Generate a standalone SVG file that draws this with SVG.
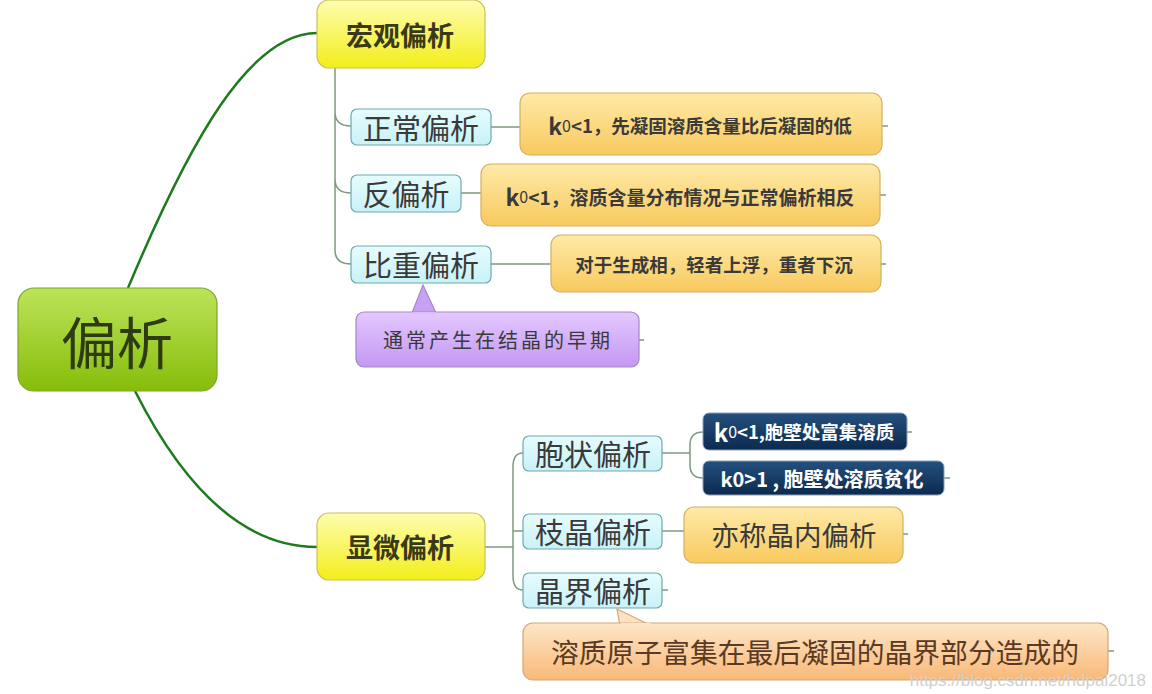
<svg xmlns="http://www.w3.org/2000/svg" width="1152" height="694" viewBox="0 0 1152 694">
<defs>
<linearGradient id="gGreen" x1="0" y1="0" x2="0" y2="1"><stop offset="0" stop-color="#bde45a"/><stop offset="1" stop-color="#86bd0a"/></linearGradient>
<linearGradient id="gYellow" x1="0" y1="0" x2="0" y2="1"><stop offset="0" stop-color="#fffdb0"/><stop offset="1" stop-color="#f2ee1a"/></linearGradient>
<linearGradient id="gCyan" x1="0" y1="0" x2="0" y2="1"><stop offset="0" stop-color="#e6fcfe"/><stop offset="1" stop-color="#c8f2f8"/></linearGradient>
<linearGradient id="gOrange" x1="0" y1="0" x2="0" y2="1"><stop offset="0" stop-color="#feeaa8"/><stop offset="1" stop-color="#f8c95e"/></linearGradient>
<linearGradient id="gBlue" x1="0" y1="0" x2="0" y2="1"><stop offset="0" stop-color="#24507e"/><stop offset="1" stop-color="#0c2a4e"/></linearGradient>
<linearGradient id="gPeach" x1="0" y1="0" x2="0" y2="1"><stop offset="0" stop-color="#fee6c8"/><stop offset="1" stop-color="#f9b878"/></linearGradient>
<linearGradient id="gPurple" x1="0" y1="0" x2="0" y2="1"><stop offset="0" stop-color="#e4c8ff"/><stop offset="1" stop-color="#c398f2"/></linearGradient>
</defs>
<style>
.main{stroke:#1d7a1d;stroke-width:2.5;fill:none}
.br{stroke:#7f9a80;stroke-width:1.5;fill:none}
.t{font-family:"Noto Sans CJK SC","Noto Sans",sans-serif;text-anchor:middle;dominant-baseline:central}
.cy{fill:url(#gCyan);stroke:#6fa9ad;stroke-width:1.2}
.or{fill:url(#gOrange);stroke:#d4b062;stroke-width:1.2}
.ye{fill:url(#gYellow);stroke:#c9c25a;stroke-width:1.2}
.bl{fill:url(#gBlue);stroke:#8aa0b8;stroke-width:1}
.cyt{font-size:29px;fill:#3a3a3a}
.ort{font-size:18.5px;font-weight:bold;fill:#3a3a3a}
</style>
<rect width="1152" height="694" fill="#ffffff"/>
<g id="connectors">
<path class="main" d="M128,288 C190,140 250,33 317,33"/>
<path class="main" d="M135,391 C185,490 245,547 317,547"/>
<path class="br" d="M335,68 V250 Q335,264 351,264 M335,112 Q335,126 351,126 M335,179 Q335,193 351,193"/>
<path class="br" d="M491,127 H520 M461,193 H481 M491,264 H551"/>
<path class="br" d="M485,547 H513 M513,467 Q513,453 523,453 M513,531 H523 M513,576 Q513,590 523,590 M513,467 V576"/>
<path class="br" d="M662,453 H690 M703,432 Q690,432 690,445 V465 Q690,478 703,478"/>
<path class="br" d="M662,531 H684"/>
<path class="br" d="M639,340 H644 M882,126 H888 M880,195 H886 M881,264 H886 M907,432 H912 M944,478 H950 M903,534 H908 M1108,651 H1114 M662,590 H668"/>
</g>
<g id="root">
<rect x="18" y="288" width="199" height="103" rx="16" fill="url(#gGreen)" stroke="#7ea52a" stroke-width="1.2"/>
<text class="t" x="117" y="339" font-size="56" fill="#2e3a12">偏析</text>
</g>
<g id="macro">
<rect class="ye" x="317" y="0" width="168" height="68" rx="12"/>
<text class="t" x="400" y="34" font-size="27" font-weight="bold" fill="#3a3a1a">宏观偏析</text>
</g>
<g id="normal">
<rect class="cy" x="351" y="109" width="140" height="36" rx="6"/>
<text class="t cyt" x="421" y="127">正常偏析</text>
</g>
<g id="inverse">
<rect class="cy" x="351" y="175" width="110" height="37" rx="6"/>
<text class="t cyt" x="406" y="193">反偏析</text>
</g>
<g id="gravity">
<rect class="cy" x="351" y="246" width="140" height="37" rx="6"/>
<text class="t cyt" x="421" y="264">比重偏析</text>
</g>
<g id="normal-desc">
<rect class="or" x="520" y="93" width="362" height="62" rx="10"/>
<text class="t ort" x="700" y="125"><tspan font-size="23">k</tspan><tspan font-size="16" font-weight="normal">0</tspan><tspan font-size="18.5">&lt;1，先凝固溶质含量比后凝固的低</tspan></text>
</g>
<g id="inverse-desc">
<rect class="or" x="481" y="164" width="399" height="62" rx="10"/>
<text class="t ort" x="680" y="196"><tspan font-size="23">k</tspan><tspan font-size="16" font-weight="normal">0</tspan><tspan font-size="19">&lt;1，溶质含量分布情况与正常偏析相反</tspan></text>
</g>
<g id="gravity-desc">
<rect class="or" x="551" y="235" width="330" height="57" rx="10"/>
<text class="t ort" x="714" y="264" font-size="19">对于生成相，轻者上浮，重者下沉</text>
</g>
<g id="early-note">
<path d="M412,313 L423,285 L436,313" fill="#c8a0f4" stroke="#a586c8" stroke-width="1.2"/>
<rect x="356" y="312" width="283" height="55" rx="8" fill="url(#gPurple)" stroke="#a586c8" stroke-width="1.2"/>
<path d="M413,313 L435,313" stroke="#dcbcfc" stroke-width="2"/>
<text class="t" x="498" y="339" font-size="20" fill="#3a3a3a" letter-spacing="3">通常产生在结晶的早期</text>
</g>
<g id="micro">
<rect class="ye" x="317" y="513" width="168" height="67" rx="12"/>
<text class="t" x="400" y="546" font-size="27" font-weight="bold" fill="#3a3a1a">显微偏析</text>
</g>
<g id="cellular">
<rect class="cy" x="523" y="436" width="139" height="35" rx="6"/>
<text class="t cyt" x="593" y="453">胞状偏析</text>
</g>
<g id="dendritic">
<rect class="cy" x="523" y="514" width="139" height="35" rx="6"/>
<text class="t cyt" x="593" y="531">枝晶偏析</text>
</g>
<g id="grain-boundary">
<rect class="cy" x="523" y="573" width="139" height="35" rx="6"/>
<text class="t cyt" x="593" y="590">晶界偏析</text>
</g>
<g id="cell-rich">
<rect class="bl" x="703" y="413" width="204" height="37" rx="6"/>
<text class="t" x="804" y="431" font-weight="bold" fill="#ffffff"><tspan font-size="24">k</tspan><tspan font-size="16" font-weight="normal">0</tspan><tspan font-size="18.5">&lt;1,胞壁处富集溶质</tspan></text>
</g>
<g id="cell-poor">
<rect class="bl" x="703" y="461" width="241" height="34" rx="6"/>
<text class="t" x="822" y="478" font-weight="bold" fill="#ffffff" font-size="20">k0&gt;1 , 胞壁处溶质贫化</text>
</g>
<g id="dendritic-desc">
<rect class="or" x="684" y="507" width="219" height="56" rx="10"/>
<text class="t" x="794" y="534" font-size="27.5" fill="#3a3a3a">亦称晶内偏析</text>
</g>
<g id="boundary-note">
<path d="M620,626 L617,609 L652,626" fill="#fde2c2" stroke="#d2a878" stroke-width="1.2"/>
<rect x="523" y="623" width="585" height="57" rx="10" fill="url(#gPeach)" stroke="#d2a878" stroke-width="1.2"/>
<path d="M621,624 L651,624" stroke="#fde6c8" stroke-width="2"/>
<text class="t" x="815" y="651" font-size="27.8" fill="#5a3a22">溶质原子富集在最后凝固的晶界部分造成的</text>
</g>
<text x="1146" y="686" font-family="'Liberation Sans',Arial,sans-serif" font-size="17" fill="#d0d0d0" text-anchor="end">https://blog.csdn.net/hdpai2018</text>
</svg>
